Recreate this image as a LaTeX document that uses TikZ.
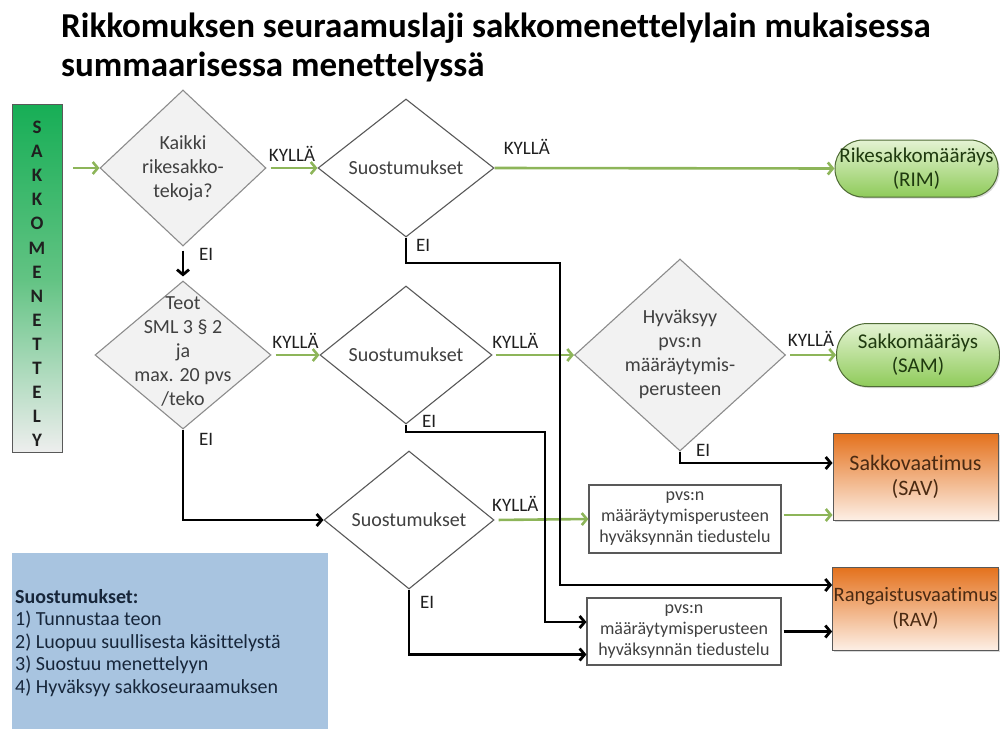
\documentclass[tikz,border=0pt]{standalone}
\usepackage{fontspec}
\setmainfont{Carlito}[Ligatures=NoCommon]
\usetikzlibrary{shapes.geometric,arrows.meta,shadows}
\definecolor{diagray}{HTML}{8C8C8C}
\definecolor{diafill}{HTML}{F2F2F2}
\definecolor{diadark}{HTML}{595959}
\definecolor{txtgray}{HTML}{404040}
\definecolor{arrgreen}{HTML}{8DB559}
\definecolor{lblcol}{HTML}{1F1F1F}
\definecolor{pillborder}{HTML}{4F6B35}
\definecolor{pilltop}{HTML}{E4F3D3}
\definecolor{pillbot}{HTML}{8FCB5A}
\definecolor{pilltext}{HTML}{1F3A0F}
\definecolor{orgtop}{HTML}{E4711C}
\definecolor{orgbot}{HTML}{FDEFE5}
\definecolor{orgtext}{HTML}{4A2A12}
\definecolor{legblue}{HTML}{A8C4E0}
\definecolor{legtext}{HTML}{17263A}
\definecolor{sidetop}{HTML}{17AE56}
\definecolor{sidemid}{HTML}{62C383}
\definecolor{sidebot}{HTML}{EEEEEE}
\begin{document}
\begin{tikzpicture}[x=1pt,y=-1pt,
  dia/.style={diamond, draw=diagray, line width=1.1pt, fill=diafill, inner sep=0pt},
  diaw/.style={dia, fill=white, draw=diadark},
  dtext/.style={align=center, font=\fontsize{20}{24}\selectfont, text=txtgray, inner sep=0pt},
  garrow/.style={draw=arrgreen, line width=2.6pt, -{Straight Barb[length=5pt,width=12pt]}},
  barrow/.style={draw=black, line width=2.8pt, -{Straight Barb[length=5pt,width=12pt]}},
  lbl/.style={font=\fontsize{19}{19}\selectfont, text=lblcol, inner sep=2pt},
  pill/.style={draw=pillborder, line width=1pt, top color=pilltop, bottom color=pillbot,
    align=center, font=\fontsize{21}{24}\selectfont, text=pilltext, inner sep=1pt,
    drop shadow={shadow xshift=1.5pt, shadow yshift=-1.5pt, opacity=0.3}},
  obox/.style={draw=diadark, line width=1pt, top color=orgtop, bottom color=orgbot,
    align=center, text=orgtext, inner sep=1pt,
    drop shadow={shadow xshift=1.5pt, shadow yshift=-1.5pt, opacity=0.3}},
  tbox/.style={draw=diadark, line width=1.1pt, fill=white, align=center,
    font=\fontsize{18}{21}\selectfont, text=txtgray, inner sep=1pt}
]
\useasboundingbox (0,0) rectangle (1000,728);

% title
\node[anchor=base west, font=\bfseries\fontsize{35}{40}\selectfont, inner sep=0pt] (title1) at (61,37) {Rikkomuksen seuraamuslaji sakkomenettelylain mukaisessa};
\node[anchor=base west, font=\bfseries\fontsize{35}{40}\selectfont, inner sep=0pt] (title2) at (61,76) {summaarisessa menettelyssä};

% sidebar
\node[draw=diadark, line width=1.2pt, top color=sidetop, bottom color=sidebot, middle color=sidemid,
  minimum width=50pt, minimum height=348pt, anchor=north west, inner sep=0pt] (side) at (12,104) {};
\node[align=center, font=\bfseries\fontsize{19}{24.1}\selectfont, text=black!88, inner sep=0pt] (sidet) at (37,284)
  {S\\A\\K\\K\\O\\M\\E\\N\\E\\T\\T\\E\\L\\Y};

% legend
\node[fill=legblue, minimum width=316pt, minimum height=180pt, anchor=north west, inner sep=0pt] (leg) at (12,553) {};
\node[anchor=west, align=left, font=\fontsize{20}{22.5}\selectfont, text=legtext, inner sep=0pt] (legt) at (15,643)
  {\textbf{Suostumukset:}\\1) Tunnustaa teon\\2) Luopuu suullisesta käsittelystä\\3) Suostuu menettelyyn\\4) Hyväksyy sakkoseuraamuksen};

% diamonds
\node[dia, minimum width=166pt, minimum height=156pt] (d1) at (183,168) {};
\node[dtext] (t1) at (d1) {Kaikki\\rikesakko-\\tekoja?};
\node[diaw, minimum width=176pt, minimum height=138pt] (d2) at (406,168) {};
\node[dtext] (t2) at (d2) {Suostumukset};
\node[dia, minimum width=176pt, minimum height=148pt] (d3) at (183,355) {};
\node[dtext] (t3) at (183,352) {Teot\\SML 3 § 2\\ja\\max. 20 pvs\\/teko};
\node[diaw, minimum width=172pt, minimum height=138pt] (d4) at (406,355) {};
\node[dtext] (t4) at (d4) {Suostumukset};
\node[dia, minimum width=211pt, minimum height=192pt] (d5) at (680,355) {};
\node[dtext] (t5) at (680,354) {Hyväksyy\\pvs:n\\määräytymis-\\perusteen};
\node[diaw, minimum width=170pt, minimum height=138pt] (d6) at (409,520) {};
\node[dtext] (t6) at (d6) {Suostumukset};

% end nodes
\node[pill, rounded corners=28pt, minimum width=163pt, minimum height=57pt] (rim) at (916.5,168.5) {Rikesakkomääräys\\(RIM)};
\node[pill, rounded corners=31pt, minimum width=163pt, minimum height=63pt] (sam) at (918,355) {Sakkomääräys\\(SAM)};
\node[obox, font=\fontsize{22}{25}\selectfont, minimum width=165pt, minimum height=87pt] (sav) at (915.5,476.5) {Sakkovaatimus\\(SAV)};
\node[obox, font=\fontsize{20.5}{25}\selectfont, minimum width=165pt, minimum height=83pt] (rav) at (915.5,608.5) {Rangaistusvaatimus\\(RAV)};

% boxes
\node[tbox, minimum width=192pt, minimum height=68pt] (b1) at (685,519) {pvs:n\\määräytymisperusteen\\hyväksynnän tiedustelu};
\node[tbox, minimum width=194pt, minimum height=67pt] (b2) at (684,631.5) {pvs:n\\määräytymisperusteen\\hyväksynnän tiedustelu};

% helper coordinates
\coordinate (j2) at (560,263);
\coordinate (j4) at (545,432);
\coordinate (j5) at (680,463);

% green connectors
\draw[garrow, shorten <=10pt] (side.east |- d1.west) -- (d1.west);
\draw[garrow, shorten <=4pt] (d1.east) -- node[lbl, above=3pt] {KYLLÄ} (d2.west);
\draw[garrow] (d2.east) -- node[lbl, above=10pt, pos=0.095] {KYLLÄ} (rim.west);
\draw[garrow, shorten <=4pt] (d3.east) -- node[lbl, above=3pt] {KYLLÄ} (d4.west);
\draw[garrow, shorten <=3pt] (d4.east) -- node[lbl, above=3pt, pos=0.28] {KYLLÄ} (d5.west);
\draw[garrow, shorten <=4pt] (d5.east) -- node[lbl, above=5pt] {KYLLÄ} (sam.west);
\draw[garrow, shorten <=4pt] (d6.east) -- node[lbl, above=5pt, pos=0.22] {KYLLÄ} (b1.west);
\draw[garrow, shorten <=2pt] ([yshift=4pt]b1.east) -- ([yshift=4pt]b1.east -| sav.west);

% black connectors
\draw[barrow, shorten <=4pt, shorten >=4pt] (d1.south) -- (d3.north);
\draw[barrow] (d3.south) |- (d6.west);
\draw[barrow] (d2.south) |- (j2) |- ([yshift=23.5pt]rav.west);
\draw[barrow] (d4.south) |- (j4) |- ([yshift=9.5pt]b2.west);
\draw[barrow] (d5.south) -- (j5) -- (j5 -| sav.west);
\draw[barrow] (d6.south) |- ([yshift=-23pt]b2.west);
\draw[barrow, shorten <=2pt] (b2.east) -- (b2.east -| rav.west);

% EI labels
\node[lbl, anchor=west] (e1) at ([xshift=14pt, yshift=-8pt]d1.south) {EI};
\node[lbl, anchor=west] (e2) at ([xshift=8pt, yshift=-8pt]d2.south) {EI};
\node[lbl, anchor=west] (e3) at ([xshift=14pt, yshift=-10pt]d3.south) {EI};
\node[lbl, anchor=west] (e4) at ([xshift=14pt, yshift=3pt]d4.south) {EI};
\node[lbl, anchor=west] (e5) at ([xshift=14pt, yshift=1pt]d5.south) {EI};
\node[lbl, anchor=west] (e6) at ([xshift=9pt, yshift=-13pt]d6.south) {EI};
\end{tikzpicture}
\end{document}
